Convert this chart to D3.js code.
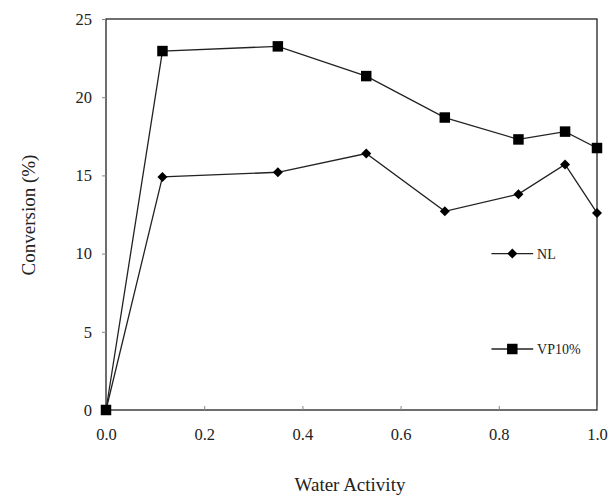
<!DOCTYPE html>
<html>
<head>
<meta charset="utf-8">
<script src="https://cdn.jsdelivr.net/npm/d3@7"></script>
<style>
  body { margin: 0; background: #fff; }
  text { font-family: "Liberation Serif", "DejaVu Serif", serif; fill: #222; }
</style>
</head>
<body>
<svg id="chart" width="610" height="497"></svg>
<script>
// Water activity values (x)
var waterActivity = [0, 0.115, 0.35, 0.53, 0.69, 0.84, 0.935, 1.0];
// Conversion (%) for each series
var nlValues   = [0, 14.9, 15.2, 16.4, 12.7, 13.8, 15.7, 12.6];
var vp10Values = [0, 22.95, 23.25, 21.35, 18.7, 17.3, 17.8, 16.75];
var xTicks = [0, 0.2, 0.4, 0.6, 0.8, 1.0];
var yTicks = [0, 5, 10, 15, 20, 25];

var svg = d3.select("#chart");
var margin = { left: 106, right: 13, top: 19, bottom: 87 };
var width = 610 - margin.left - margin.right;
var height = 497 - margin.top - margin.bottom;

var g = svg.append("g").attr("transform", "translate(" + margin.left + "," + margin.top + ")");

var x = d3.scaleLinear().domain([0, 1]).range([0, width]);
var y = d3.scaleLinear().domain([0, 25]).range([height, 0]);

// Frame
g.append("rect")
    .attr("width", width)
    .attr("height", height)
    .attr("fill", "none")
    .attr("stroke", "#222")
    .attr("stroke-width", 1.3);

// Axes
var xAxis = g.append("g")
    .attr("transform", "translate(0," + height + ")")
    .call(d3.axisBottom(x).tickValues(xTicks).tickFormat(d3.format(".1f")).tickSize(-4).tickPadding(18));
var yAxis = g.append("g")
    .call(d3.axisLeft(y).tickValues(yTicks).tickSize(4).tickPadding(10));

[xAxis, yAxis].forEach(function(a) {
    a.select(".domain").remove();
    a.selectAll("line").attr("stroke", "#888");
    a.selectAll("text").attr("font-size", 16.5).attr("fill", "#222")
        .style("font-family", "Liberation Serif");
});

// Axis titles
svg.append("text")
    .attr("x", 350)
    .attr("y", 491)
    .attr("text-anchor", "middle")
    .attr("font-size", 19)
    .text("Water Activity");

svg.append("text")
    .attr("transform", "translate(35,215) rotate(-90)")
    .attr("text-anchor", "middle")
    .attr("font-size", 19)
    .text("Conversion (%)");

var line = d3.line()
    .x(function(d) { return x(d[0]); })
    .y(function(d) { return y(d[1]); });

// Diamonds are drawn as squares turned 45 degrees
var series = [
    { name: "NL", values: nlValues, symbol: d3.symbolSquare, size: 50, rotate: 45, legendY: 10 },
    { name: "VP10%", values: vp10Values, symbol: d3.symbolSquare, size: 110, rotate: 0, legendY: 3.9 }
];

series.forEach(function(s) {
    var pts = waterActivity.map(function(w, i) { return [w, s.values[i]]; });

    g.append("path")
        .datum(pts)
        .attr("d", line)
        .attr("fill", "none")
        .attr("stroke", "#222")
        .attr("stroke-width", 1.3);

    g.selectAll(null)
        .data(pts)
        .enter()
        .append("path")
        .attr("transform", function(d) {
            return "translate(" + x(d[0]) + "," + y(d[1]) + ") rotate(" + s.rotate + ")";
        })
        .attr("d", d3.symbol().type(s.symbol).size(s.size))
        .attr("fill", "#000");

    // Legend entry
    var ly = y(s.legendY);
    g.append("line")
        .attr("x1", x(0.785)).attr("x2", x(0.87))
        .attr("y1", ly).attr("y2", ly)
        .attr("stroke", "#222")
        .attr("stroke-width", 1.3);
    g.append("path")
        .attr("transform", "translate(" + x(0.8275) + "," + ly + ") rotate(" + s.rotate + ")")
        .attr("d", d3.symbol().type(s.symbol).size(s.size))
        .attr("fill", "#000");
    g.append("text")
        .attr("x", x(0.878))
        .attr("y", ly + 5)
        .attr("font-size", 14)
        .text(s.name);
});
</script>
</body>
</html>
